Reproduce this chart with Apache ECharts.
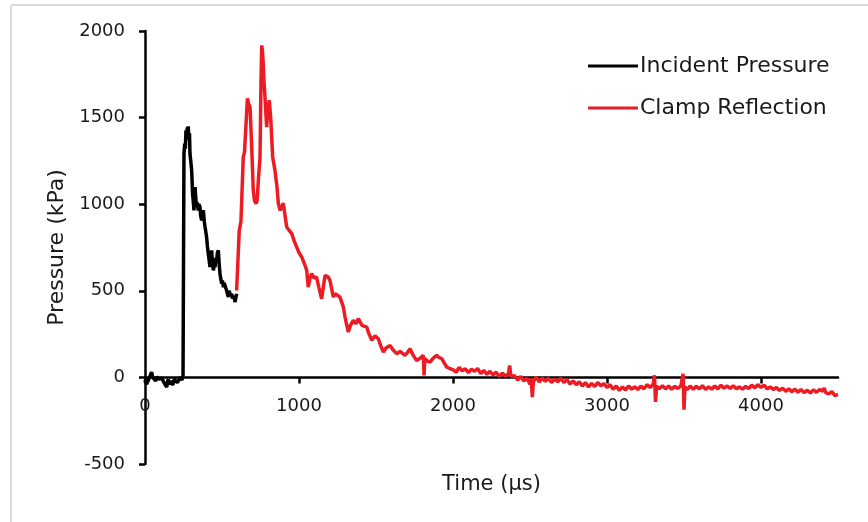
<!DOCTYPE html>
<html>
<head>
<meta charset="utf-8">
<script src="https://cdn.jsdelivr.net/npm/echarts@6/dist/echarts.min.js"></script>
<style>
html,body{margin:0;padding:0;background:#fff;}
#chart{width:868px;height:522px;}
</style>
</head>
<body>
<div id="chart"></div>
<script>
// Incident Pressure (black)
var incidentTime = [0,5,10,20,30,43,50,60,70,80,90,100,110,120,130,141,150,160,170,180,190,200,210,220,230,240,247,249,253,258,262,266,270,275,278,281,285,289,292,297,303,306,309,314,318,322,325,330,335,340,346,351,357,362,368,373,379,385,390,395,400,405,411,416,422,428,433,438,444,450,455,460,465,470,476,482,487,492,498,503,509,514,520,525,530,536,541,546,552,557,563,568,574,579,584,590,595];
var incidentPressure = [-30,-10,-40,-20,-10,30,0,-5,-20,5,-10,-15,-5,-25,-40,-56,-10,-40,-20,-45,-10,-5,-30,-20,0,-15,10,10,1291,1350,1320,1426,1390,1443,1400,1449,1370,1410,1291,1250,1195,1130,1060,1010,964,1040,1099,1030,983,1010,964,1000,983,930,906,950,964,900,868,840,810,760,714,680,637,700,733,660,618,650,637,690,675,720,733,650,599,570,541,560,521,545,530,515,502,480,464,500,493,470,483,455,444,470,435,460,483];

// Clamp Reflection (red)
var clampTime = [595,612,623,638,646,656,665,673,682,693,703,711,721,728,736,747,753,758,763,768,773,779,790,799,807,816,829,844,857,866,877,898,920,935,953,968,985,1000,1018,1039,1050,1060,1071,1082,1097,1114,1129,1147,1169,1190,1201,1223,1234,1266,1288,1299,1320,1334,1352,1370,1385,1409,1440,1455,1473,1494,1515,1532,1548,1565,1591,1610,1634,1656,1688,1701,1721,1740,1764,1786,1807,1812,1817,1831,1851,1870,1894,1909,1927,1942,1959,1981,
  2000,2020,2040,2060,2080,2100,2120,2140,2160,2180,2200,2220,2240,2260,2280,2300,2320,2340,2360,2368,2376,2400,2420,2440,2460,2480,2500,2508,2515,2522,2540,2560,2580,2600,2620,2640,2660,2680,2700,2720,2740,2760,2780,2800,2820,2840,2860,2880,2900,2920,2940,2960,2980,
  3000,3020,3040,3060,3080,3100,3120,3140,3160,3180,3200,3220,3240,3260,3280,3300,3308,3315,3322,3340,3360,3380,3400,3420,3440,3460,3480,3494,3500,3506,3520,3540,3560,3580,3600,3620,3640,3660,3680,3700,3720,3740,3760,3780,3800,3820,3840,3860,3880,3900,3920,3940,3960,3980,
  4000,4020,4040,4060,4080,4100,4120,4140,4160,4180,4200,4220,4240,4260,4280,4300,4320,4340,4360,4380,4400,4410,4420,4440,4460,4480,4500];
var clampPressure = [502,849,900,1272,1300,1290,1611,1580,1560,1330,1080,1020,1003,1020,1137,1272,1700,1917,1880,1811,1700,1618,1445,1550,1600,1503,1272,1195,1100,1003,964,1005,868,850,830,790,752,720,695,647,618,521,570,599,575,579,520,454,589,579,560,464,483,464,406,348,262,300,329,310,339,300,290,250,214,240,223,180,146,170,185,160,137,150,127,140,166,130,98,110,127,12,110,95,88,110,127,115,108,85,60,50,
  45,30,58,38,50,28,48,35,52,22,40,18,35,15,30,5,25,8,20,69,5,10,-15,5,-20,-5,-40,-5,-114,-25,2,-25,-5,-22,-5,-30,-10,-25,-5,-30,-12,-38,-20,-42,-25,-50,-30,-55,-35,-52,-30,-48,-36,
  -58,-42,-68,-50,-75,-55,-72,-50,-68,-55,-70,-50,-66,-42,-58,-40,12,-142,-50,-65,-48,-66,-50,-68,-52,-64,-48,21,-187,-55,-70,-50,-68,-52,-66,-48,-70,-55,-68,-50,-66,-45,-62,-50,-64,-48,-66,-55,-68,-52,-64,-45,-60,-42,
  -58,-45,-66,-55,-70,-58,-75,-62,-80,-66,-82,-68,-85,-70,-88,-74,-90,-72,-86,-70,-80,-62,-88,-95,-82,-105,-98];

var xTicks = [0,1000,2000,3000,4000];
var yTicks = [-500,0,500,1000,1500,2000];

function zip(a,b){ return a.map(function(v,i){ return [v,b[i]]; }); }

var FONT = 'DejaVu Sans';
var TXT = '#1a1a1a';
var chart = echarts.init(document.getElementById('chart'), null, {renderer:'canvas'});
chart.setOption({
  backgroundColor:'#ffffff',
  animation:false,
  graphic:[
    {type:'line', shape:{x1:11,y1:5,x2:868,y2:5}, style:{stroke:'#d9d9d9', lineWidth:2}},
    {type:'line', shape:{x1:11,y1:5,x2:11,y2:522}, style:{stroke:'#d9d9d9', lineWidth:2}}
  ],
  grid:{left:145, right:30, top:31, bottom:58, containLabel:false, outerBoundsMode:'none'},
  legend:{
    orient:'vertical', left:583, top:50, itemGap:20,
    icon:'rect', itemWidth:50, itemHeight:3,
    textStyle:{fontFamily:FONT, fontSize:22, color:TXT, padding:[0,0,0,-3]},
    data:['Incident Pressure','Clamp Reflection']
  },
  xAxis:{
    type:'value', min:0, max:4500, interval:1000,
    offset:-86.6,
    name:'Time (µs)', nameLocation:'middle', nameGap:97,
    nameTextStyle:{fontFamily:FONT, fontSize:21, color:TXT},
    axisLine:{onZero:false, lineStyle:{color:'#000', width:2.5}},
    axisTick:{show:true, inside:false, length:6, lineStyle:{color:'#000', width:2.5}},
    axisLabel:{fontFamily:FONT, fontSize:18, color:TXT, margin:20, showMaxLabel:false,
      formatter:function(v){ return xTicks.indexOf(v)>=0 ? String(v) : ''; }},
    splitLine:{show:false}
  },
  yAxis:{
    type:'value', min:-500, max:2000, interval:500,
    name:'Pressure (kPa)', nameLocation:'middle', nameGap:76, nameRotate:90,
    nameTextStyle:{fontFamily:FONT, fontSize:22, color:TXT},
    axisLine:{show:true, onZero:false, lineStyle:{color:'#000', width:2.5}},
    axisTick:{show:true, inside:false, length:6, lineStyle:{color:'#000', width:2.5}},
    axisLabel:{fontFamily:FONT, fontSize:18, color:TXT, margin:20,
      formatter:function(v){ return yTicks.indexOf(v)>=0 ? String(v) : ''; }},
    splitLine:{show:false}
  },
  series:[
    {name:'Incident Pressure', type:'line', data:zip(incidentTime, incidentPressure),
     showSymbol:false, symbol:'none', color:'#000000', lineStyle:{color:'#000000', width:3.5}, z:3},
    {name:'Clamp Reflection', type:'line', data:zip(clampTime, clampPressure),
     showSymbol:false, symbol:'none', color:'#ed1c24', lineStyle:{color:'#ed1c24', width:3.5}, z:2}
  ]
});
</script>
</body>
</html>
